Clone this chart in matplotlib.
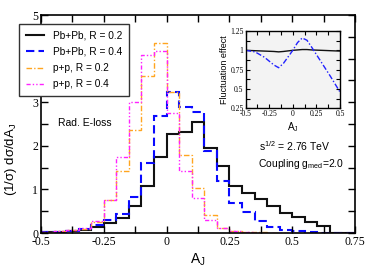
import numpy as np
import matplotlib
matplotlib.use("Agg")
import matplotlib.pyplot as plt
from matplotlib.ticker import MultipleLocator

plt.rcParams['font.family'] = ['Liberation Sans', 'DejaVu Sans']
plt.rcParams['mathtext.default'] = 'regular'

# A_J histogram, bin width 0.05 from -0.5 to 0.75
bin_edges = np.round(np.arange(-0.5, 0.751, 0.05), 3)
pbpb_r02 = [0.02, 0.03, 0.05, 0.08, 0.14, 0.23, 0.35, 0.62, 1.07, 1.74, 2.28, 2.32, 2.55,
            1.96, 1.53, 1.08, 0.91, 0.77, 0.61, 0.47, 0.37, 0.26, 0.16, 0.0, 0.0]
pbpb_r04 = [0.02, 0.03, 0.05, 0.09, 0.19, 0.30, 0.43, 0.82, 1.60, 2.68, 3.24, 2.90, 2.77,
            1.87, 1.20, 0.69, 0.49, 0.28, 0.14, 0.07, 0.04, 0.03, 0.01, 0.0, 0.0]
pp_r02 = [0.02, 0.04, 0.06, 0.10, 0.25, 0.75, 1.43, 2.36, 3.60, 4.36, 3.24, 1.79, 1.04,
          0.41, 0.11, 0.05, 0.03, 0.02, 0.01, 0.01, 0.0, 0.0, 0.0, 0.0, 0.0]
pp_r04 = [0.02, 0.04, 0.07, 0.11, 0.27, 0.76, 1.74, 3.01, 4.08, 4.18, 2.75, 1.42, 0.80,
          0.30, 0.11, 0.04, 0.02, 0.01, 0.01, 0.0, 0.0, 0.0, 0.0, 0.0, 0.0]

# inset: fluctuation effect
fl_x = [-0.5, -0.4, -0.3, -0.2, -0.15, -0.1, 0.0, 0.05, 0.1, 0.15, 0.2, 0.3, 0.4, 0.5]
fl_r02 = [1.0, 0.995, 0.99, 0.985, 0.98, 0.985, 1.0, 1.005, 1.01, 1.01, 1.005, 1.0, 0.995, 0.99]
fl_r04 = [1.0, 0.98, 0.91, 0.81, 0.775, 0.83, 1.0, 1.1, 1.16, 1.13, 1.04, 0.85, 0.66, 0.46]

serif = 'Liberation Serif'

fig = plt.figure(figsize=(3.71, 2.69), dpi=100)
ax = fig.add_axes([0.1105, 0.1338, 0.8465, 0.8104])

ax.stairs(pbpb_r02, bin_edges, color='#111111', lw=1.5, label='Pb+Pb, R = 0.2')
ax.stairs(pbpb_r04, bin_edges, color='#0a0aff', lw=1.5, linestyle=(0, (4, 2)),
          label='Pb+Pb, R = 0.4')
ax.stairs(pp_r02, bin_edges, color='#ffa51f', lw=1.0, linestyle=(0, (4, 1.5, 1, 1.5)),
          label='p+p, R = 0.2')
ax.stairs(pp_r04, bin_edges, color='#ff22ff', lw=1.0,
          linestyle=(0, (3, 1.5, 1, 1.5, 1, 1.5)), label='p+p, R = 0.4')

ax.set_xlim(-0.5, 0.75)
ax.set_ylim(0, 5)
ax.xaxis.set_minor_locator(MultipleLocator(0.125))
ax.yaxis.set_minor_locator(MultipleLocator(0.5))
ax.set_xticks([-0.5, -0.25, 0, 0.25, 0.5, 0.75])
ax.set_xticklabels(['-0.5', '-0.25', '0', '0.25', '0.5', '0.75'], family=serif, fontsize=8.5)
ax.set_yticks([0, 1, 2, 3, 4, 5])
ax.set_yticklabels(['0', '1', '2', '3', '4', '5'], family=serif, fontsize=8.5)
ax.tick_params(which='both', direction='in', top=True, right=True, width=1)
ax.tick_params(which='major', length=5, pad=2)
ax.tick_params(which='minor', length=5)
for s in ax.spines.values():
    s.set_linewidth(1.2)

ax.set_xlabel('A$_J$', fontsize=10, labelpad=3)
ax.set_ylabel('(1/σ) dσ/dA$_J$', fontsize=9.5, labelpad=4)
ax.yaxis.set_label_coords(-0.07, 0.34)

ax.text(-0.432, 2.52, 'Rad. E-loss', fontsize=7.5, va='center')
ax.text(0.368, 2.0, 's$^{1/2}$ = 2.76 TeV', fontsize=7.5, va='center')
ax.text(0.364, 1.58, 'Coupling g$_{med}$=2.0', fontsize=7.5, va='center')

leg = ax.legend(loc='upper left', bbox_to_anchor=(19 / 371, 1 - 24 / 269),
                bbox_transform=fig.transFigure, borderaxespad=0, fontsize=7.3,
                handlelength=1.8, handletextpad=0.9, labelspacing=0.62,
                borderpad=0.65, fancybox=False, framealpha=1)
leg.get_frame().set_edgecolor('#333333')
leg.get_frame().set_linewidth(1.0)

# inset
ins = fig.add_axes([0.662, 0.5974, 0.2545, 0.2874])
ins.set_facecolor('#f3f3f3')
ins.plot(fl_x, fl_r02, color='#111111', lw=1.0)
ins.plot(fl_x, fl_r04, color='#2222ff', lw=1.0, linestyle=(0, (4, 1.5, 1, 1.5)))
ins.set_xlim(-0.5, 0.5)
ins.set_ylim(0.25, 1.25)
ins.xaxis.set_minor_locator(MultipleLocator(0.125))
ins.yaxis.set_minor_locator(MultipleLocator(0.125))
ins.set_xticks([-0.5, -0.25, 0, 0.25, 0.5])
ins.set_xticklabels(['-0.5', '-0.25', '0', '0.25', '0.5'], family=serif, fontsize=5.5)
ins.set_yticks([0.25, 0.5, 0.75, 1, 1.25])
ins.set_yticklabels(['0.25', '0.5', '0.75', '1', '1.25'], family=serif, fontsize=5.5)
ins.tick_params(which='both', direction='in', top=True, right=True, width=0.8, pad=1.5)
ins.tick_params(which='major', length=3)
ins.tick_params(which='minor', length=3)
for s in ins.spines.values():
    s.set_linewidth(1.0)
ins.set_xlabel('A$_J$', fontsize=7, labelpad=1)
ins.set_ylabel('Fluctuation effect', fontsize=6.5, labelpad=1)

fig.savefig('out.png', dpi=100)
